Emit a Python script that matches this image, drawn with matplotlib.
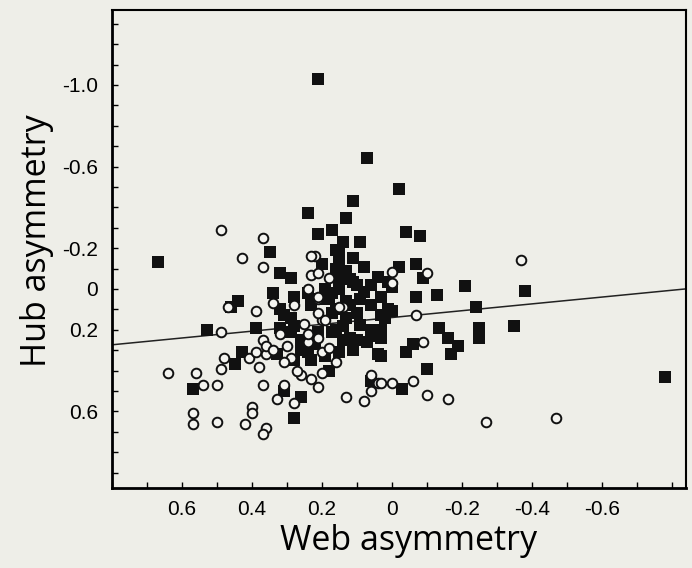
import matplotlib.pyplot as plt
import numpy as np
from matplotlib.ticker import FixedLocator, MultipleLocator

# filled squares (web asymmetry, hub asymmetry)
sq_x = [0.21, 0.07, -0.02, 0.11, 0.24, 0.13, 0.21, 0.17, 0.14, 0.09,
        -0.04, -0.08, 0.67, 0.35, 0.32, 0.29, 0.34, 0.44, 0.46, 0.53,
        0.39, 0.43, 0.45, 0.57, 0.28, 0.26, 0.31, 0.04, 0.06, -0.02,
        -0.07, -0.09, 0.01, -0.21, -0.38, -0.07, -0.13, -0.24, 0.0, -0.35,
        -0.135, -0.16, -0.25, -0.25, -0.19, -0.17, 0.03, 0.03, -0.06, -0.04,
        0.03, -0.10, -0.03, -0.78, 0.15, 0.08, 0.04, 0.10, 0.0, 0.03,
        0.15, 0.28, 0.20, 0.16, 0.03, 0.01, 0.10, 0.14, 0.16, 0.12,
        0.04, 0.32, 0.29, 0.23, 0.26, 0.24, 0.33, 0.32, 0.29, 0.23,
        0.18, 0.15, 0.17, 0.21, 0.21, 0.24, 0.17, 0.15, 0.11, 0.13,
        0.11, 0.15, 0.08, 0.06, 0.13, 0.09, 0.06, 0.13, 0.11, 0.18,
        0.07, 0.26, 0.28, 0.31, 0.28, 0.16, 0.12, 0.13, 0.02,
        0.12, 0.16, 0.09, 0.17, 0.10, 0.19, 0.06, 0.14, 0.22, 0.19]
sq_y = [-1.03, -0.64, -0.49, -0.43, -0.37, -0.35, -0.27, -0.29, -0.23, -0.23,
        -0.28, -0.26, -0.13, -0.18, -0.08, -0.055, 0.02, 0.06, 0.09, 0.20,
        0.19, 0.31, 0.37, 0.49, 0.63, 0.53, 0.50, 0.32, 0.45, -0.11,
        -0.12, -0.055, -0.035, -0.016, 0.01, 0.04, 0.03, 0.09, 0.11, 0.18,
        0.19, 0.24, 0.19, 0.24, 0.28, 0.32, 0.20, 0.24, 0.27, 0.31,
        0.33, 0.39, 0.49, 0.43, -0.13, -0.11, -0.06, -0.02, -0.01, 0.04,
        -0.06, 0.04, -0.12, -0.19, 0.13, 0.10, 0.25, 0.25, 0.10, 0.08,
        0.23, 0.10, 0.14, 0.08, 0.25, 0.31, 0.32, 0.19, 0.21, 0.35,
        0.40, 0.31, 0.21, 0.21, 0.05, 0.02, 0.02, -0.17, -0.15, -0.09,
        -0.035, 0.0, 0.015, 0.08, 0.14, 0.175, 0.20, 0.25, 0.30, 0.05,
        0.26, 0.30, 0.35, 0.13, 0.18, 0.20, 0.24, 0.06, 0.14,
        -0.05, -0.10, 0.05, 0.12, 0.12, 0.0, -0.02, 0.18, 0.27, 0.33]

# open circles
ci_x = [0.49, 0.37, 0.43, 0.37, 0.22, 0.47, 0.39, 0.49, 0.64, 0.56,
        0.54, 0.50, 0.48, 0.49, 0.37, 0.31, 0.33, 0.28, 0.57, 0.57,
        0.50, 0.42, 0.40, 0.40, 0.36, 0.37, 0.13, 0.08, 0.06, 0.04,
        0.0, 0.21, 0.23, 0.26, 0.20, 0.38, 0.41, 0.39, 0.36, 0.32,
        0.30, 0.29, 0.24, 0.24, 0.21, 0.20, 0.16, 0.18, 0.37, 0.36,
        0.23, 0.21, 0.18, 0.24, 0.21, 0.28, 0.20, 0.14, 0.0, 0.0,
        0.06, -0.37, -0.10, -0.07, -0.09, 0.03, -0.06, -0.10, -0.16, -0.27,
        -0.47, 0.15, 0.19, 0.21, 0.21, 0.34, 0.23, 0.25, 0.34, 0.31, 0.27]
ci_y = [-0.29, -0.25, -0.15, -0.11, -0.16, 0.09, 0.11, 0.21, 0.41, 0.41,
        0.47, 0.47, 0.34, 0.39, 0.47, 0.47, 0.54, 0.56, 0.61, 0.66,
        0.65, 0.66, 0.58, 0.61, 0.68, 0.71, 0.53, 0.55, 0.50, 0.46,
        0.46, 0.48, 0.44, 0.42, 0.41, 0.38, 0.34, 0.31, 0.32, 0.22,
        0.28, 0.34, 0.26, 0.22, 0.24, 0.31, 0.36, 0.29, 0.25, 0.28,
        -0.07, -0.08, -0.055, 0.0, 0.05, 0.08, 0.15, 0.09, -0.085, -0.03,
        0.42, -0.14, -0.08, 0.13, 0.26, 0.46, 0.45, 0.52, 0.54, 0.65,
        0.63, 0.09, 0.15, 0.04, 0.12, 0.07, -0.16, 0.17, 0.30, 0.36, 0.40]

# fitted line (hub = a + b * web)
fit_a = 0.14
fit_b = 0.167
line_x = np.array([0.80, -0.84])

x_ticks = [0.6, 0.4, 0.2, 0, -0.2, -0.4, -0.6]
x_labels = ['0.6', '0.4', '0.2', '0', '-0.2', '-0.4', '-0.6']
y_ticks = [-1.0, -0.6, -0.2, 0, 0.2, 0.6]
y_labels = ['-1.0', '-0.6', '-0.2', '0', '0.2', '0.6']

bg = '#eeeee8'
fig = plt.figure(figsize=(6.92, 5.68), dpi=100, facecolor=bg)
ax = fig.add_axes([0.162, 0.141, 0.829, 0.841], facecolor=bg)

ax.plot(line_x, fit_a + fit_b * line_x, color='#222222', lw=1.1, zorder=2)
ax.scatter(sq_x, sq_y, marker='s', s=68, color='#111111', linewidths=0, zorder=3)
ax.scatter(ci_x, ci_y, marker='o', s=48, facecolor='#f4f4f0', edgecolor='#111111',
           linewidths=1.4, zorder=4)

ax.set_xlim(0.80, -0.84)
ax.set_ylim(0.975, -1.366)

ax.xaxis.set_major_locator(FixedLocator(x_ticks))
ax.set_xticklabels(x_labels)
ax.xaxis.set_minor_locator(MultipleLocator(0.1))
ax.yaxis.set_major_locator(FixedLocator(y_ticks))
ax.set_yticklabels(y_labels)
ax.yaxis.set_minor_locator(MultipleLocator(0.1))

ax.tick_params(which='both', direction='in', length=4, width=1, top=False, right=False)
ax.tick_params(axis='x', which='major', pad=9, labelsize=15)
ax.tick_params(axis='y', which='major', pad=10, labelsize=15)
for lab in ax.get_xticklabels() + ax.get_yticklabels():
    lab.set_family('Liberation Sans')

for side in ['left', 'bottom']:
    ax.spines[side].set_linewidth(2)
for side in ['top', 'right']:
    ax.spines[side].set_linewidth(1.5)

ax.set_xlabel('Web asymmetry', fontsize=24.5, family='Open Sans', labelpad=3)
ax.set_ylabel('Hub asymmetry', fontsize=24.5, family='Open Sans', labelpad=6)
# labels sit a bit off-centre in the original
ax.xaxis.label.set_x(0.516)
ax.yaxis.label.set_y(0.517)

fig.savefig('out.png', dpi=100, facecolor=bg)
